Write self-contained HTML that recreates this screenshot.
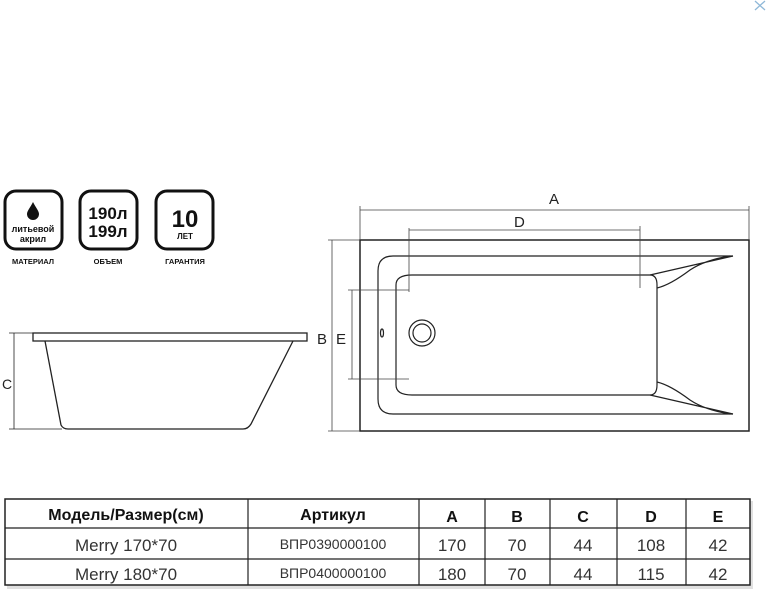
<!DOCTYPE html>
<html><head><meta charset="utf-8"><style>
body{margin:0;background:#fff;width:767px;height:597px;overflow:hidden;font-family:"Liberation Sans",sans-serif}
</style></head><body>
<svg width="767" height="597" viewBox="0 0 767 597" xmlns="http://www.w3.org/2000/svg" font-family="Liberation Sans, sans-serif">
<path d="M755 1 L765 10 M765 1 L755 10" stroke="#8fb8d8" stroke-width="1.3"/>
<!-- icons -->
<g fill="none" stroke="#111" stroke-width="3">
<rect x="5" y="191" width="57" height="58" rx="11"/>
<rect x="80" y="191" width="57" height="58" rx="11"/>
<rect x="156" y="191" width="57" height="58" rx="11"/>
</g>
<path d="M33 202 C30 208 27 211 27 214 A6 6 0 0 0 39 214 C39 211 36 208 33 202Z" fill="#111"/>
<g text-anchor="middle" fill="#111" font-weight="bold">
<text x="33" y="232" font-size="9">литьевой</text>
<text x="33" y="242" font-size="9">акрил</text>
<text x="108" y="219" font-size="17">190л</text>
<text x="108" y="237" font-size="17">199л</text>
<text x="185" y="227" font-size="24">10</text>
<text x="185" y="239" font-size="8">ЛЕТ</text>
<text x="33" y="264" font-size="7.5">МАТЕРИАЛ</text>
<text x="108" y="264" font-size="7.5">ОБЪЕМ</text>
<text x="185" y="264" font-size="7.5">ГАРАНТИЯ</text>
</g>
<!-- side view -->
<g fill="none" stroke="#222" stroke-width="1.3">
<rect x="33" y="333" width="274" height="8"/>
<path d="M45 341 L61 425 Q63 429 68 429 L243 429 Q248 429 251 424 L293 341"/>
<path d="M14 333 V429 M9 333 H33 M9 429 H62" stroke-width="0.8"/>
</g>
<text x="2" y="389" font-size="14" fill="#222">C</text>
<!-- top view -->
<g fill="none" stroke="#222" stroke-width="1.2">
<rect x="360" y="240" width="389" height="191" stroke-width="1.5"/>
<path d="M393 256 H733 L733 256 M393 414 H733" />
<path d="M393 256 Q378 256 378 271 V399 Q378 414 393 414"/>
<path d="M412 275 H650 Q657 275 657 285 V385 Q657 395 650 395 H412 Q396 395 396 385 V285 Q396 275 412 275Z"/>
<path d="M650 275 L733 256 M657 288 Q670 285 690 270 Q705 260 730 256"/>
<path d="M650 395 L733 414 M657 382 Q670 385 690 400 Q705 410 730 414"/>
<circle cx="422" cy="333" r="13"/><circle cx="422" cy="333" r="9"/>
<ellipse cx="382" cy="333" rx="1.5" ry="4"/>
</g>
<g fill="none" stroke="#444" stroke-width="0.8">
<path d="M360 210 H749 M360 206 V240 M749 206 V240"/>
<path d="M409 230 H640 M409 228 V292 M640 226 V288"/>
<path d="M332 240 V431 M328 240 H360 M328 431 H360"/>
<path d="M352 290 V379 M348 290 H409 M348 379 H409"/>
</g>
<g font-size="15" fill="#222">
<text x="549" y="204">A</text>
<text x="514" y="227">D</text>
<text x="317" y="344">B</text>
<text x="336" y="344">E</text>
</g>
<!-- table -->
<rect x="7" y="501" width="746" height="88" fill="#ccc" opacity="0.6"/>
<rect x="5" y="499" width="745" height="86" fill="#fff" stroke="#222" stroke-width="1.5"/>
<g stroke="#222" stroke-width="1.2">
<path d="M5 528 H750 M5 559 H750"/>
<path d="M248 499 V585 M419 499 V585 M485 499 V585 M550 499 V585 M617 499 V585 M686 499 V585"/>
</g>
<g text-anchor="middle" fill="#111" font-size="16" font-weight="bold">
<text x="126" y="520">Модель/Размер(см)</text>
<text x="333" y="520">Артикул</text>
<text x="452" y="522">A</text>
<text x="517" y="522">B</text>
<text x="583" y="522">C</text>
<text x="651" y="522">D</text>
<text x="718" y="522">E</text>
</g>
<g text-anchor="middle" fill="#333" font-size="17">
<text x="126" y="551">Merry 170*70</text>
<text x="333" y="549" font-size="14">ВПР0390000100</text>
<text x="452" y="551">170</text><text x="517" y="551">70</text><text x="583" y="551">44</text><text x="651" y="551">108</text><text x="718" y="551">42</text>
<text x="126" y="580">Merry 180*70</text>
<text x="333" y="578" font-size="14">ВПР0400000100</text>
<text x="452" y="580">180</text><text x="517" y="580">70</text><text x="583" y="580">44</text><text x="651" y="580">115</text><text x="718" y="580">42</text>
</g>
</svg>
</body></html>
